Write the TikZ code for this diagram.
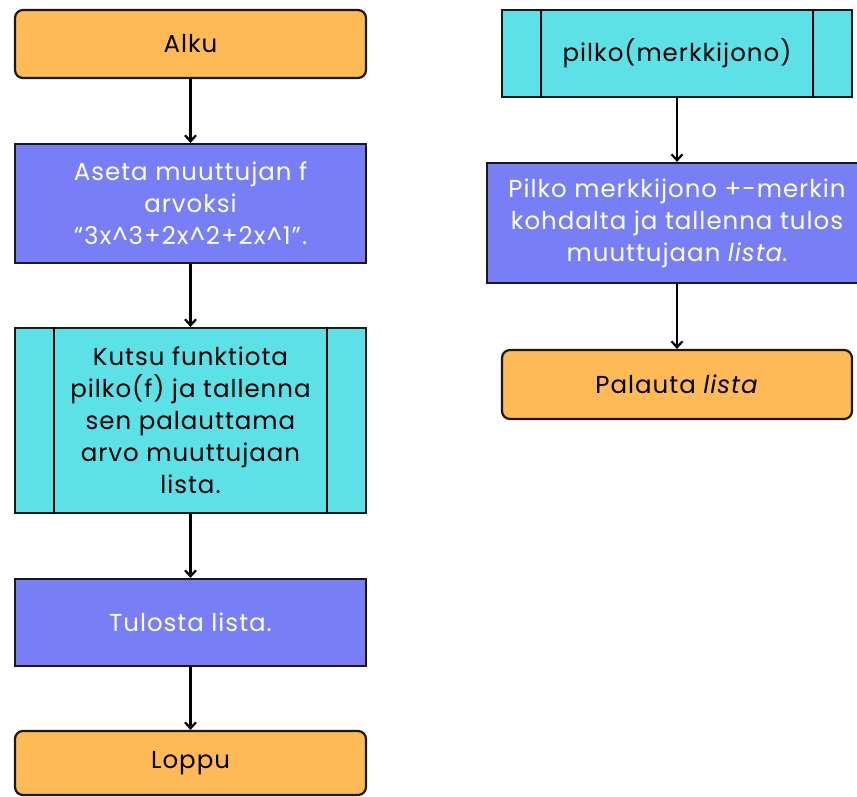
\documentclass[tikz,border=0pt]{standalone}
\usepackage{fontspec}
\setmainfont{Poppins}[LetterSpace=4.0]
\usetikzlibrary{arrows.meta}

\definecolor{termorange}{HTML}{FDBA55}
\definecolor{procblue}{HTML}{787FF6}
\definecolor{subcyan}{HTML}{5CE1E6}

\tikzset{
    box/.style={draw=black!90, line width=2.2pt, align=center, inner sep=0pt,
        font=\fontsize{24.5}{32}\selectfont},
    terminal/.style={box, fill=termorange, rounded corners=8pt},
    process/.style={box, fill=procblue, text=white},
    subroutine/.style={box, fill=subcyan},
    flow/.style={-{Straight Barb[length=6pt,width=11pt]}, line width=2.2pt}
}

\begin{document}
\begin{tikzpicture}[x=1pt, y=-1pt]

    \useasboundingbox (0,0) rectangle (857,796);

    % Main program
    \node[terminal, minimum width=351pt, minimum height=68pt] (alku) at (190.5,44) {Alku};
    \node[process, minimum width=351pt, minimum height=119pt] (aseta) at (190.5,203.5)
        {Aseta muuttujan f\\arvoksi\\“3x\^{}3+2x\^{}2+2x\^{}1”.};
    \node[subroutine, minimum width=351pt, minimum height=185pt] (kutsu) at (190.5,420.5)
        {Kutsu funktiota\\pilko(f) ja tallenna\\sen palauttama\\arvo muuttujaan\\lista.};
    \node[process, minimum width=351pt, minimum height=87pt] (tulosta) at (190.5,622.5) {Tulosta lista.};
    \node[terminal, minimum width=351pt, minimum height=64pt] (loppu) at (190.5,763) {Loppu};

    % Function pilko
    \node[subroutine, minimum width=350pt, minimum height=87pt] (pilko) at (677,53.5) {pilko(merkkijono)};
    \node[process, minimum width=380pt, minimum height=120pt] (jako) at (677,223)
        {Pilko merkkijono +-merkin\\kohdalta ja tallenna tulos\\muuttujaan \textit{lista}.};
    \node[terminal, minimum width=350pt, minimum height=69pt] (palauta) at (677,384.5) {Palauta \textit{lista}};

    % Side bars of the subroutine boxes
    \foreach \n in {kutsu, pilko} {
        \draw[line width=2.2pt] ([xshift=40pt]\n.north west) -- ([xshift=40pt]\n.south west);
        \draw[line width=2.2pt] ([xshift=-40pt]\n.north east) -- ([xshift=-40pt]\n.south east);
    }

    % Arrows
    \draw[flow] (alku) -- (aseta);
    \draw[flow] (aseta) -- (kutsu);
    \draw[flow] (kutsu) -- (tulosta);
    \draw[flow] (tulosta) -- (loppu);
    \draw[flow] (pilko) -- (jako);
    \draw[flow] (jako) -- (palauta);

\end{tikzpicture}
\end{document}
